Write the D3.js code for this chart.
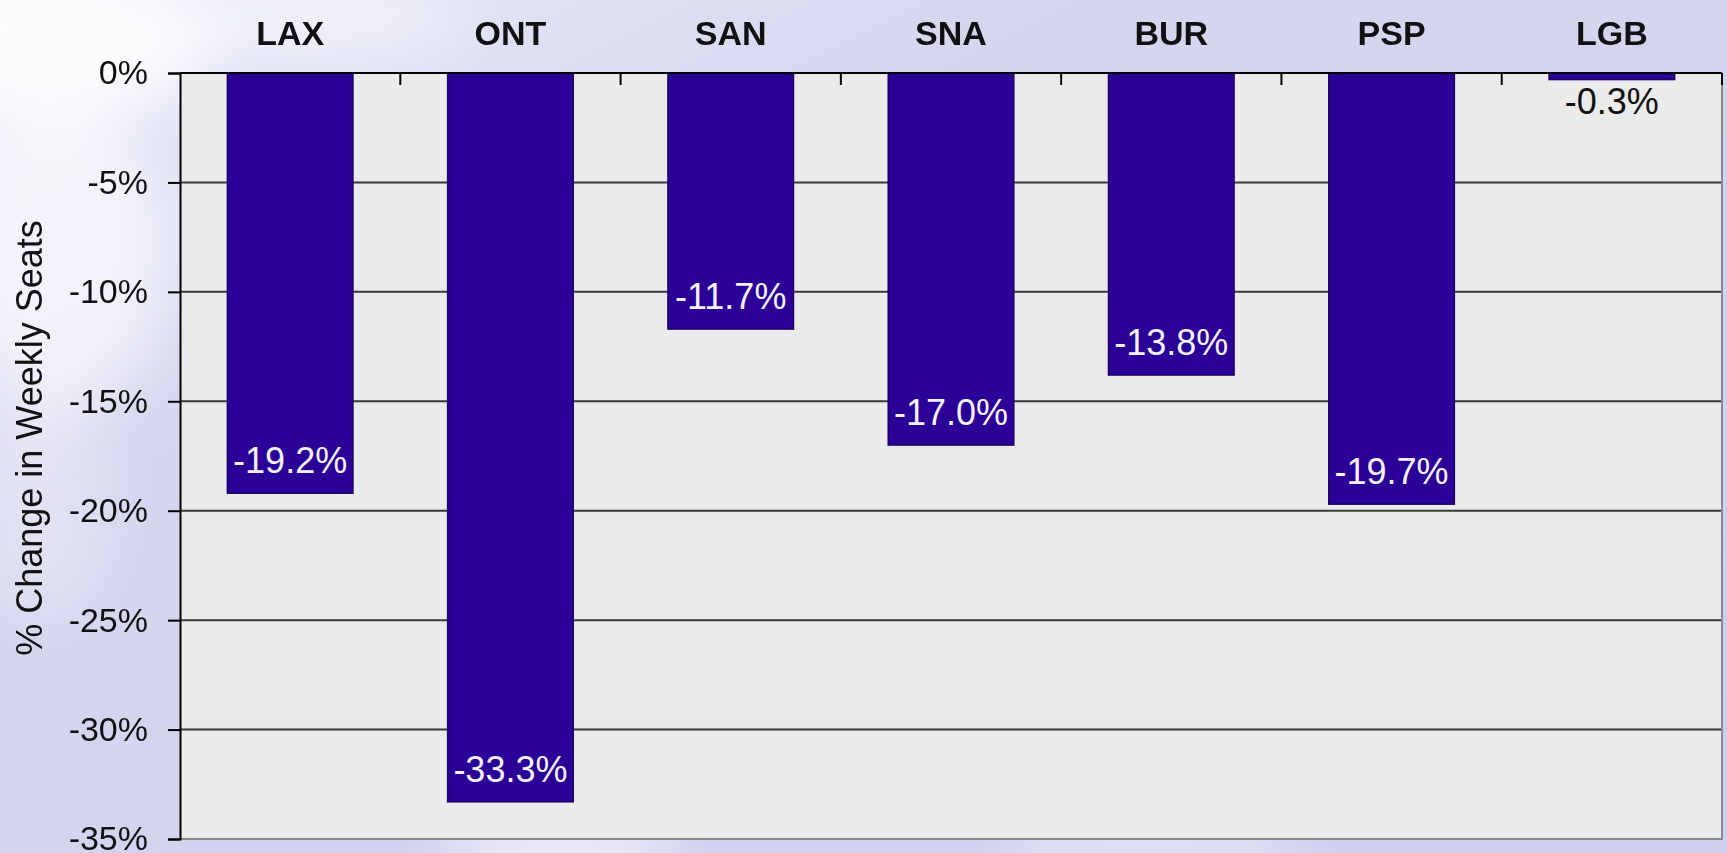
<!DOCTYPE html>
<html>
<head>
<meta charset="utf-8">
<script src="https://cdn.jsdelivr.net/npm/d3@7"></script>
<style>
  html, body { margin: 0; padding: 0; background: #d3d3ef; }
  svg { display: block; font-family: "Liberation Sans", Arial, sans-serif; }
</style>
</head>
<body>
<script>
// Chart data
var airports = ["LAX", "ONT", "SAN", "SNA", "BUR", "PSP", "LGB"];
var seatChange = [-19.2, -33.3, -11.7, -17.0, -13.8, -19.7, -0.3];
var yTicks = [0, -5, -10, -15, -20, -25, -30, -35];
var yTitle = "% Change in Weekly Seats";

var width = 1727,
    height = 853;
var margin = {top: 73, right: 5, bottom: 14, left: 180};
var w = width - margin.left - margin.right,
    h = height - margin.top - margin.bottom;

var svg = d3.select("body").append("svg")
    .attr("width", width)
    .attr("height", height);

// Background: lavender sky with some soft clouds
var defs = svg.append("defs");
var bg = defs.append("linearGradient").attr("id", "bg")
    .attr("x1", 0).attr("y1", 0).attr("x2", 1).attr("y2", 1);
bg.append("stop").attr("offset", "0%").attr("stop-color", "#eceef9");
bg.append("stop").attr("offset", "30%").attr("stop-color", "#d6d6f0");
bg.append("stop").attr("offset", "100%").attr("stop-color", "#cfcfee");
defs.append("filter").attr("id", "blur")
    .attr("x", "-50%").attr("y", "-50%").attr("width", "200%").attr("height", "200%")
    .append("feGaussianBlur").attr("stdDeviation", 28);

svg.append("rect").attr("width", width).attr("height", height).attr("fill", "url(#bg)");

var clouds = [
  [40, 40, 170, 80, 0.85], [60, 260, 110, 150, 0.6], [330, 20, 140, 40, 0.45],
  [560, 850, 120, 30, 0.7], [1150, 855, 160, 25, 0.5], [40, 500, 70, 120, 0.3]
];
svg.append("g").attr("filter", "url(#blur)")
  .selectAll("ellipse").data(clouds).enter().append("ellipse")
    .attr("cx", function(d) { return d[0]; })
    .attr("cy", function(d) { return d[1]; })
    .attr("rx", function(d) { return d[2]; })
    .attr("ry", function(d) { return d[3]; })
    .attr("fill", "#ffffff")
    .attr("opacity", function(d) { return d[4]; });

var g = svg.append("g").attr("transform", "translate(" + margin.left + "," + margin.top + ")");

// Scales
var x = d3.scaleBand()
    .domain(airports)
    .range([0, w])
    .paddingInner(0.43)
    .paddingOuter(0.215);
var xCat = d3.scaleBand().domain(airports).range([0, w]);
var y = d3.scaleLinear().domain([0, -35]).range([0, h]);

// Plot area
g.append("rect").attr("width", w).attr("height", h).attr("fill", "#ebebeb");

// Grid lines
g.append("g").selectAll("line").data(yTicks.filter(function(d) { return d !== 0 && d !== -35; }))
  .enter().append("line")
    .attr("x1", 0).attr("x2", w)
    .attr("y1", function(d) { return y(d); })
    .attr("y2", function(d) { return y(d); })
    .attr("stroke", "#3a3a3a")
    .attr("stroke-width", 2);

// Frame (right and bottom)
g.append("path")
    .attr("d", "M" + w + ",0V" + h + "H0")
    .attr("fill", "none")
    .attr("stroke", "#8a8a8a")
    .attr("stroke-width", 2);

// Bars
var data = airports.map(function(a, i) { return {name: a, value: seatChange[i]}; });
g.append("g").selectAll("rect").data(data).enter().append("rect")
    .attr("x", function(d) { return x(d.name); })
    .attr("y", y(0))
    .attr("width", x.bandwidth())
    .attr("height", function(d) { return y(d.value) - y(0); })
    .attr("fill", "#2a0096")
    .attr("stroke", "#1c0066")
    .attr("stroke-width", 1.5);

// Bar labels
g.append("g").selectAll("text").data(data).enter().append("text")
    .attr("x", function(d) { return x(d.name) + x.bandwidth() / 2; })
    .attr("y", function(d) {
      var bh = y(d.value) - y(0);
      return bh > 40 ? y(d.value) - 20 : y(d.value) + 34;
    })
    .attr("text-anchor", "middle")
    .attr("font-size", 36)
    .attr("fill", function(d) { return (y(d.value) - y(0)) > 40 ? "#f4f2ff" : "#111111"; })
    .text(function(d) { return d.value.toFixed(1) + "%"; });

// Y axis
var yAxis = d3.axisLeft(y)
    .tickValues(yTicks)
    .tickSize(12)
    .tickPadding(20)
    .tickFormat(function(d) { return d + "%"; });
var ya = g.append("g").call(yAxis);
ya.select(".domain").attr("stroke", "#000").attr("stroke-width", 2);
ya.selectAll(".tick line").attr("stroke", "#000").attr("stroke-width", 2);
ya.selectAll(".tick text")
    .attr("font-family", "'Liberation Sans', Arial, sans-serif")
    .attr("font-size", 34)
    .attr("fill", "#111");

// Top axis line at 0% with category ticks
var xa = d3.axisTop(xCat).tickSize(0).tickPadding(28);
var xg = g.append("g").call(xa);
xg.select(".domain").remove();
xg.selectAll(".tick text")
    .attr("font-family", "'Liberation Sans', Arial, sans-serif")
    .attr("font-size", 34)
    .attr("font-weight", "bold")
    .attr("fill", "#111");
g.append("line")
    .attr("x1", 0).attr("x2", w)
    .attr("y1", y(0)).attr("y2", y(0))
    .attr("stroke", "#000").attr("stroke-width", 2);
g.append("g").selectAll("line").data(airports.slice(1).concat(["end"])).enter().append("line")
    .attr("x1", function(d) { return d === "end" ? w : xCat(d); })
    .attr("x2", function(d) { return d === "end" ? w : xCat(d); })
    .attr("y1", y(0)).attr("y2", y(0) + 12)
    .attr("stroke", "#000").attr("stroke-width", 2);

// Y axis title
svg.append("text")
    .attr("transform", "translate(42," + (margin.top + h / 2 - 18) + ") rotate(-90)")
    .attr("text-anchor", "middle")
    .attr("font-size", 36)
    .attr("fill", "#111")
    .text(yTitle);
</script>
</body>
</html>
